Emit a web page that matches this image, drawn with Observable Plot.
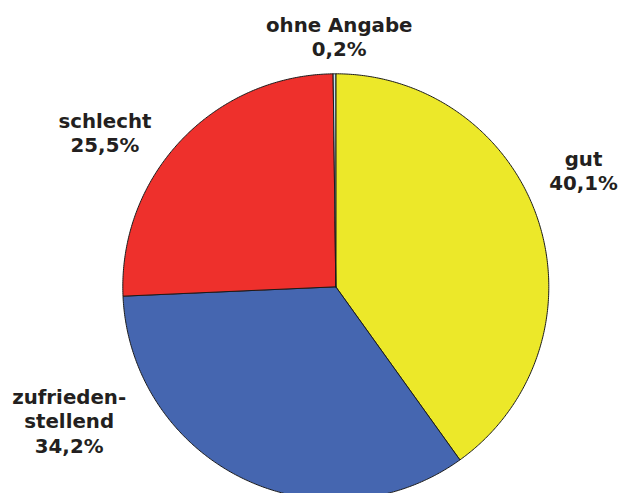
<!DOCTYPE html>
<html>
<head>
<meta charset="utf-8">
<script src="https://cdn.jsdelivr.net/npm/d3@7"></script>
<script src="https://cdn.jsdelivr.net/npm/@observablehq/plot@0.6"></script>
<style>
  html, body { margin: 0; padding: 0; background: #ffffff; }
  #chart { width: 620px; height: 493px; overflow: hidden; }
</style>
</head>
<body>
<div id="chart"></div>
<script>
// ---- data ----
const categories = ["gut", "zufriedenstellend", "schlecht", "ohne Angabe"];
const values = [40.1, 34.2, 25.5, 0.2];
const labels = ["gut\n40,1%", "zufrieden-\nstellend\n34,2%", "schlecht\n25,5%", "ohne Angabe\n0,2%"];

// ---- styles / layout ----
const colors = ["#ece829", "#4566b0", "#ee302c", "#c3e3f1"];
const labelAngle = [65.2, 243.0, 303.5, 0.8];   // degrees clockwise from 12 o'clock
const labelDist = [1.281, 1.405, 1.30, 1.165];  // relative to radius

// ---- geometry built from the data ----
const total = d3.sum(values);
const points = [];
let acc = 0;
categories.forEach((cat, i) => {
  const a0 = acc / total * 2 * Math.PI;
  acc += values[i];
  const a1 = acc / total * 2 * Math.PI;
  const n = Math.max(2, Math.ceil((a1 - a0) / (Math.PI / 360)));
  points.push({cat, x: 0, y: 0});
  for (let k = 0; k <= n; k++) {
    const a = a0 + (a1 - a0) * k / n;
    points.push({cat, x: Math.sin(a), y: Math.cos(a)});
  }
  points.push({cat, x: 0, y: 0});
});

const labelData = categories.map((cat, i) => {
  const a = labelAngle[i] * Math.PI / 180;
  return {cat, text: labels[i], x: labelDist[i] * Math.sin(a), y: labelDist[i] * Math.cos(a)};
});

const R = 213, CX = 335.3, CY = 286.3, W = 620, H = 493;

const chart = Plot.plot({
  width: W,
  height: H,
  margin: 0,
  style: {background: "#ffffff", overflow: "visible"},
  x: {domain: [-CX / R, (W - CX) / R], range: [0, W], axis: null},
  y: {domain: [-(H - CY) / R, CY / R], range: [H, 0], axis: null},
  color: {domain: categories, range: colors},
  marks: [
    Plot.line(points, {
      x: "x", y: "y", z: "cat", fill: "cat",
      stroke: "#1b1b1b", strokeWidth: 1, strokeLinejoin: "round", curve: "linear"
    }),
    Plot.text(labelData, {
      x: "x", y: "y", text: "text", dy: -2,
      fontFamily: "DejaVu Sans", fontWeight: "bold", fontSize: 19.8,
      lineHeight: 1.22, fill: "#231f20", textAnchor: "middle", lineAnchor: "middle"
    })
  ]
});
document.getElementById("chart").appendChild(chart);
</script>
</body>
</html>
